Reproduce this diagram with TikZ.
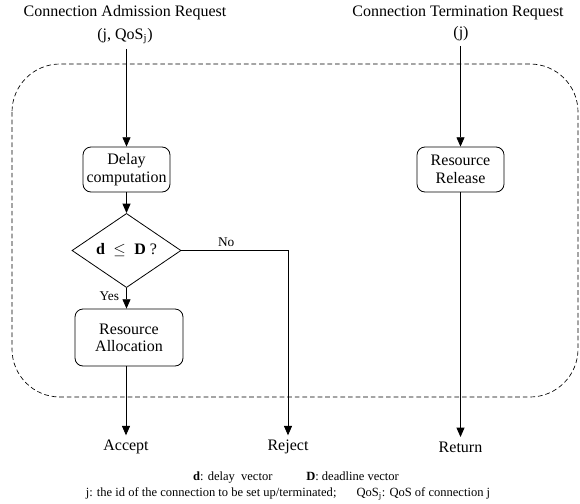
\documentclass[tikz,border=0pt]{standalone}
\usepackage{fontspec}
\setmainfont{Liberation Serif}
\usetikzlibrary{arrows.meta, positioning, shapes.geometric}

\begin{document}
\begin{tikzpicture}[
  x=0.75pt, y=-0.75pt,
  font=\fontsize{12}{13}\selectfont,
  procbox/.style={rectangle, rounded corners=6pt, draw=black, line width=0.6pt, align=center, inner sep=1pt},
  decision/.style={diamond, draw=black, line width=0.6pt, minimum width=81.75pt, minimum height=37.5pt, inner sep=0pt},
  flow/.style={draw=black, line width=0.6pt, -{Triangle[length=7pt, width=6pt]}},
  note/.style={font=\fontsize{9.4}{10}\selectfont}
]
\useasboundingbox (0,0) rectangle (580,503);
% session boundary
\draw[dash pattern=on 3.5pt off 2.2pt, line width=0.5pt, rounded corners=36pt] (12,64) rectangle (578,397);
% requests
\node (admReq) at (125,13) {Connection Admission Request};
\node[below=-1pt of admReq] (admArg) {(j, QoS$_{\mathrm{j}}$)};
\node (termReq) at (458,13) {Connection Termination Request};
\node (termArg) at (461,34) {(j)};
% admission branch
\node[procbox, minimum width=65.25pt, minimum height=33.75pt] (delay) at (126.5,169.5) {Delay\\computation};
\node[decision] (check) at (126.5,250.5) {$\mathbf{d}\ \le\ \mathbf{D}$ ?};
\node[procbox, minimum width=81pt, minimum height=42.75pt] (alloc) at (129,337.5) {Resource\\Allocation};
\node (accept) at (126,447) {Accept};
\node (reject) at (288,447) {Reject};
\coordinate (noTurn) at (288,250.5);
% termination branch
\node[procbox, minimum width=65.25pt, minimum height=33.75pt] (release) at (460.5,169.5) {Resource\\Release};
\node (ret) at (460.5,447) {Return};
% connectors
\draw[flow] (admArg.south -| delay.north) -- (delay.north);
\draw[flow] (delay.south) -- (check.north);
\draw[flow] (check.south) -- node[left=2pt, pos=0.4, font=\fontsize{10}{11}\selectfont] {Yes} (check.south |- alloc.north);
\draw[flow] (alloc.south -| accept.north) -- (accept.north);
\draw[flow] (check.east) -- node[above=-1pt, pos=0.42, font=\fontsize{10}{11}\selectfont] {No} (noTurn) -- (reject.north);
\draw[flow] (termArg.south -| release.north) -- (release.north);
\draw[flow] (release.south) -- (ret.north);
% legend
\node[note] (legendA) at (296,477) {\textbf{d}: delay\ \ vector \hspace{2.2em} \textbf{D}: deadline vector};
\node[note] (legendB) at (288,494) {j: the id of the connection to be set up/terminated;\hspace{1.6em}QoS$_{\mathrm{j}}$: QoS\ of connection j};
\end{tikzpicture}
\end{document}
